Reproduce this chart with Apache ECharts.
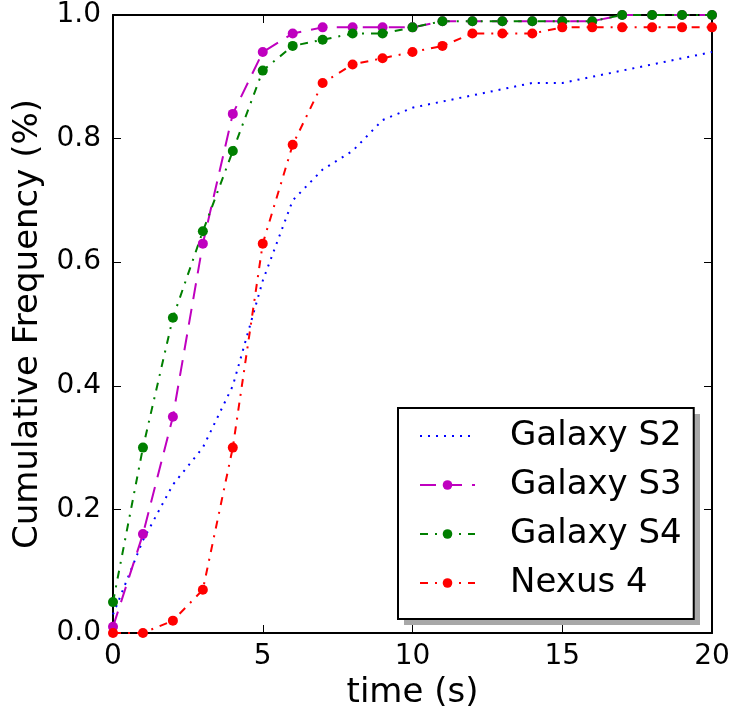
<!DOCTYPE html>
<html>
<head>
<meta charset="utf-8">
<script src="https://cdn.jsdelivr.net/npm/echarts@6/dist/echarts.min.js"></script>
<style>html,body{margin:0;padding:0;background:#fff}#c{width:733px;height:721px}</style>
</head>
<body>
<div id="c"></div>
<script>
var times = [0,1,2,3,4,5,6,7,8,9,10,11,12,13,14,15,16,17,18,19,20];
var galaxyS2 = [0.03,0.15,0.24,0.30,0.40,0.57,0.70,0.75,0.78,0.83,0.85,0.86,0.87,0.88,0.89,0.89,0.90,0.91,0.92,0.93,0.94];
var galaxyS3 = [0.01,0.16,0.35,0.63,0.84,0.94,0.97,0.98,0.98,0.98,0.98,0.99,0.99,0.99,0.99,0.99,0.99,1.0,1.0,1.0,1.0];
var galaxyS4 = [0.05,0.30,0.51,0.65,0.78,0.91,0.95,0.96,0.97,0.97,0.98,0.99,0.99,0.99,0.99,0.99,0.99,1.0,1.0,1.0,1.0];
var nexus4   = [0.0,0.0,0.02,0.07,0.30,0.63,0.79,0.89,0.92,0.93,0.94,0.95,0.97,0.97,0.97,0.98,0.98,0.98,0.98,0.98,0.98];
var seriesNames = ['Galaxy S2','Galaxy S3','Galaxy S4','Nexus 4'];
var xTicks = [0,5,10,15,20];
var yTicks = [0.0,0.2,0.4,0.6,0.8,1.0];

function pairs(ys){ return times.map(function(t,i){ return [t, ys[i]]; }); }

var font = 'DejaVu Sans';
var chart = echarts.init(document.getElementById('c'), null, {renderer:'canvas'});

function xAx(pos, showLabel){
  return {
    type:'value', min:0, max:20, interval:5, position:pos,
    name: showLabel ? 'time (s)' : '', nameLocation:'middle', nameGap:28,
    nameTextStyle:{fontFamily:font, fontSize:34, color:'#000', verticalAlign:'top'},
    axisLine:{show:true, onZero:false, lineStyle:{color:'#000', width:2}},
    axisTick:{show:true, inside:true, length:8, lineStyle:{color:'#000', width:1}},
    axisLabel:{show:showLabel, fontFamily:font, fontSize:28, color:'#000', margin:10,
      formatter:function(v){ return xTicks.indexOf(v)>=0 ? String(v) : ''; }},
    splitLine:{show:false}
  };
}
function yAx(pos, showLabel){
  return {
    type:'value', min:0, max:1, interval:0.2, position:pos,
    name: showLabel ? 'Cumulative Frequency (%)' : '', nameLocation:'middle', nameGap:60,
    nameTextStyle:{fontFamily:font, fontSize:34, color:'#000'},
    axisLine:{show:true, onZero:false, lineStyle:{color:'#000', width:2}},
    axisTick:{show:true, inside:true, length:8, lineStyle:{color:'#000', width:1}},
    axisLabel:{show:showLabel, fontFamily:font, fontSize:28, color:'#000', margin:12,
      formatter:function(v){ return v.toFixed(1); }},
    splitLine:{show:false}
  };
}

var colors = ['#0000ff','#bf00bf','#007f00','#ff0000'];
var dashes = [[2,6],[16,10],[8,7,2,7],[8,7,2,7]];
var datas = [galaxyS2, galaxyS3, galaxyS4, nexus4];

var series = seriesNames.map(function(n,i){
  return {
    name:n, type:'line', data:pairs(datas[i]),
    symbol: i===0 ? 'none' : 'circle',
    showSymbol: i!==0,
    symbolSize: 10,
    clip:true,
    itemStyle:{color:colors[i]},
    lineStyle:{color:colors[i], width:2, type:dashes[i]},
    emphasis:{disabled:true},
    animation:false
  };
});

var legendData = seriesNames.map(function(n,i){
  if (i===0) return {name:n, itemStyle:{color:'rgba(0,0,0,0)', borderWidth:0}};
  return {name:n};
});

chart.setOption({
  animation:false,
  grid:{left:113, right:21, top:15, bottom:88, containLabel:false},
  xAxis:[xAx('bottom', true), xAx('top', false)],
  yAxis:[yAx('left', true), yAx('right', false)],
  graphic:[{
    type:'rect', z:3, silent:true,
    shape:{x:404, y:414, width:296, height:211},
    style:{fill:'#a8a8a8'}
  }],
  legend:{
    data:legendData, orient:'vertical', left:398, top:408, z:5,
    itemWidth:55, itemHeight:12, itemGap:15,
    padding:[11,12,19,21],
    backgroundColor:'#fff', borderColor:'#000', borderWidth:2,
    textStyle:{fontFamily:font, fontSize:34, color:'#000', lineHeight:34, padding:[0,0,0,30]}
  },
  series:series
});
</script>
</body>
</html>
